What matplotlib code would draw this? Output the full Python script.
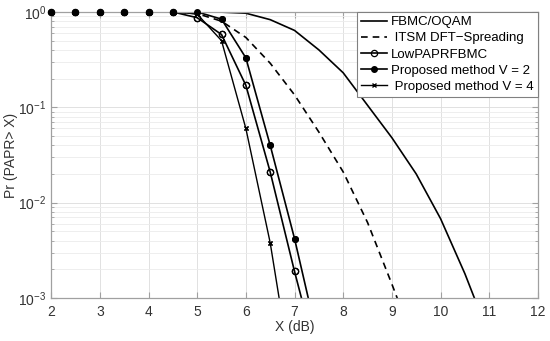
import matplotlib
matplotlib.use('Agg')
from matplotlib import pyplot as plt
import numpy as np

plt.rcParams['font.family'] = ['Liberation Sans', 'DejaVu Sans']

x = [2, 2.5, 3, 3.5, 4, 4.5, 5, 5.5, 6, 6.5, 7, 7.5, 8, 8.5, 9, 9.5, 10, 10.5, 11]

fbmc = [1, 1, 1, 1, 1, 1, 1, 0.995, 0.97, 0.83, 0.64, 0.40, 0.23, 0.105,
        0.048, 0.020, 0.0068, 0.0018, 0.0004]
itsm = [1, 1, 1, 1, 1, 1, 0.96, 0.80, 0.54, 0.29, 0.135, 0.055, 0.021,
        0.0062, 0.0014, 0.0003]

x_prop = [2, 2.5, 3, 3.5, 4, 4.5, 5, 5.5, 6, 6.5, 7, 7.5]
lowpapr = [1, 1, 1, 1, 1, 1, 0.87, 0.58, 0.17, 0.021, 0.0019, 0.0002]
prop_v2 = [1, 1, 1, 1, 1, 1, 1, 0.84, 0.33, 0.040, 0.0042, 0.00033]
prop_v4 = [1, 1, 1, 1, 1, 1, 0.95, 0.50, 0.060, 0.0038, 0.0001, 0.00001]

labels = ['FBMC/OQAM', ' ITSM DFT\u2212Spreading', 'LowPAPRFBMC',
          'Proposed method V = 2', ' Proposed method V = 4']

fig = plt.figure(figsize=(5.5, 3.41), dpi=100)
ax = fig.add_axes([0.093, 0.126, 0.885, 0.839])

lw = 1.2
circ = dict(ms=4.5, mfc='none', mew=0.9)
dot = dict(ms=4, mfc='k')
cross = dict(ms=3, mew=1.0)
ax.semilogy(x, fbmc, '-', color='k', lw=lw, label=labels[0])
ax.semilogy(x[:len(itsm)], itsm, color='k', lw=lw, ls=(0, (4, 3)), label=labels[1])
ax.semilogy(x_prop, lowpapr, '-o', color='k', lw=lw, label=labels[2], **circ)
ax.semilogy(x_prop, prop_v2, '-o', color='k', lw=lw, label=labels[3], **dot)
ax.semilogy(x_prop, prop_v4, '-x', color='k', lw=1.0, label=labels[4], **cross)

# markers drawn on top, unclipped like matlab does
for ys, mk, kw in [(lowpapr, 'o', circ), (prop_v4, 'x', cross), (prop_v2, 'o', dot)]:
    xs = [a for a, b in zip(x_prop, ys) if b >= 1e-3]
    yy = [b for b in ys if b >= 1e-3]
    ax.plot(xs, yy, mk, color='k', clip_on=False, zorder=5, **kw)

ax.set_xlim(2, 12)
ax.set_ylim(1e-3, 1)
ax.set_xticks(range(2, 13))
ax.grid(which='major', color='#dcdcdc', lw=0.6)
ax.grid(which='minor', axis='y', color='#ebebeb', lw=0.6)
ax.set_axisbelow(True)

for s in ax.spines.values():
    s.set_color('#a0a0a0')
    s.set_linewidth(0.9)
ax.tick_params(which='both', direction='in', colors='#a0a0a0', labelcolor='#333333',
               labelsize=10, right=True, top=True)
ax.tick_params(which='major', length=4)
ax.tick_params(which='minor', length=2.5)
ax.tick_params(axis='x', pad=5)

ax.set_xlabel('X (dB)', fontsize=10, color='#333333', labelpad=1)
ax.set_ylabel('Pr (PAPR> X)', fontsize=10, color='#333333')
ax.yaxis.set_label_coords(-0.068, 0.5)

leg = ax.legend(loc='upper right', borderaxespad=0, fontsize=9.5, fancybox=False,
                framealpha=1, edgecolor='#808080', handlelength=2.0, handletextpad=0.3,
                borderpad=0.3, labelspacing=0.3)
leg.get_frame().set_linewidth(0.8)

fig.savefig('out.png', dpi=100)
